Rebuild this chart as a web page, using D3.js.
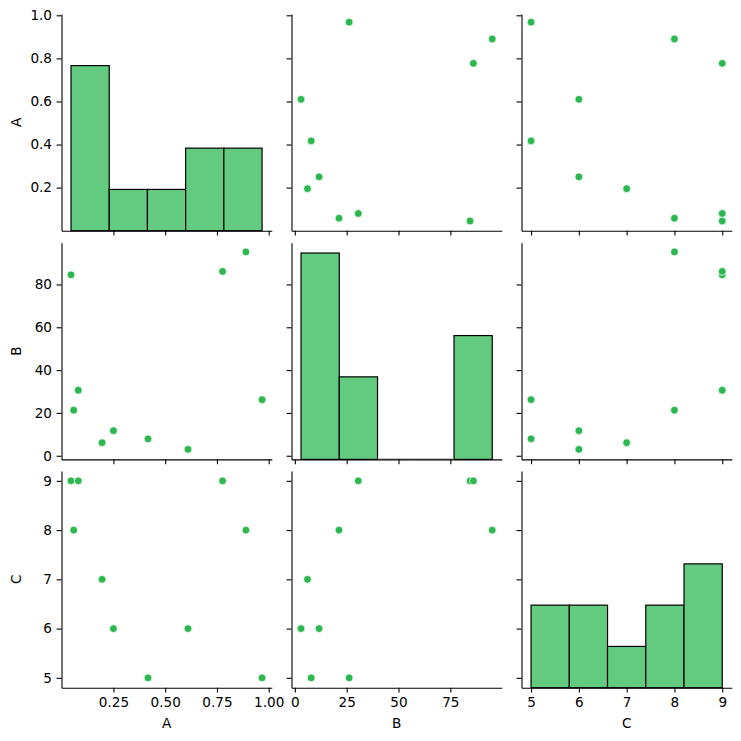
<!DOCTYPE html>
<html><head><meta charset="utf-8">
<script src="https://cdn.jsdelivr.net/npm/d3@7"></script>
<style>body{margin:0;background:#fff}svg{display:block}text{font-family:"DejaVu Sans",sans-serif}</style>
</head><body>
<script>
const variables = ["A", "B", "C"];
const valuesA = [0.045, 0.08, 0.058, 0.195, 0.25, 0.417, 0.61, 0.777, 0.89, 0.968];
const valuesB = [84.5, 30.6, 21.3, 6.1, 11.7, 7.9, 3.0, 86.1, 95.2, 26.2];
const valuesC = [9, 9, 8, 7, 6, 5, 6, 9, 8, 5];
const ticksA = [0.25, 0.5, 0.75, 1.0];
const ticksAy = [0.2, 0.4, 0.6, 0.8, 1.0];
const ticksB = [0, 25, 50, 75];
const ticksBy = [0, 20, 40, 60, 80];
const ticksC = [5, 6, 7, 8, 9];
const binCount = 5;

const data = { A: valuesA, B: valuesB, C: valuesC };
const xDomains = { A: [-0.001, 1.015], B: [-1.6, 99.8], C: [4.8, 9.2] };
const yDomains = { A: [0.0, 1.006], B: [-1.7, 99.5], C: [4.8, 9.2] };
const xTicks = { A: ticksA, B: ticksB, C: ticksC };
const yTicks = { A: ticksAy, B: ticksBy, C: ticksC };
const xFmt = { A: d3.format(".2f"), B: d3.format("d"), C: d3.format("d") };
const yFmt = { A: d3.format(".1f"), B: d3.format("d"), C: d3.format("d") };

const W = 741, H = 741;
const colX = [61.5, 291.5, 521.5], colW = 210.3;
const rowY = [14, 242.7, 471], rowH = 216.7;
const pointColor = "#2cb74f", histColor = "#63cb7f";
const fs = 13.6, tickLen = 4.9, tickPad = 4.6;

const svg = d3.select("body").append("svg").attr("width", W).attr("height", H);

const bins = {};
variables.forEach(v => {
  const ext = d3.extent(data[v]);
  const step = (ext[1] - ext[0]) / binCount;
  const th = d3.range(1, binCount).map(i => ext[0] + i * step);
  bins[v] = d3.bin().domain(ext).thresholds(th)(data[v]);
});
const maxCount = d3.max(variables, v => d3.max(bins[v], b => b.length));
const countScale = d3.scaleLinear().domain([0, maxCount * 1.05]);

variables.forEach((rv, ri) => {
  variables.forEach((cv, ci) => {
    const g = svg.append("g").attr("transform", `translate(${colX[ci]},${rowY[ri]})`);
    const x = d3.scaleLinear().domain(xDomains[cv]).range([0, colW]);
    const y = d3.scaleLinear().domain(yDomains[rv]).range([rowH, 0]);
    if (ri === ci) {
      const cy = countScale.copy().range([rowH, 0]);
      g.selectAll("rect").data(bins[cv].filter(d => d.length > 0)).join("rect")
        .attr("x", d => x(d.x0)).attr("width", d => x(d.x1) - x(d.x0))
        .attr("y", d => cy(d.length)).attr("height", d => rowH - cy(d.length))
        .attr("fill", histColor).attr("stroke", "#000").attr("stroke-width", 1.2);
      g.selectAll("line.empty").data(bins[cv].filter(d => d.length === 0)).join("line")
        .attr("class", "empty")
        .attr("x1", d => x(d.x0)).attr("x2", d => x(d.x1))
        .attr("y1", rowH - 0.5).attr("y2", rowH - 0.5)
        .attr("stroke", "#aaa").attr("stroke-width", 1.2);
    } else {
      g.selectAll("circle").data(data[cv].map((d, i) => [d, data[rv][i]])).join("circle")
        .attr("cx", d => x(d[0])).attr("cy", d => y(d[1])).attr("r", 3.9)
        .attr("fill", pointColor).attr("stroke", "#fff").attr("stroke-width", 0.75);
    }
    const xa = d3.axisBottom(x).tickValues(xTicks[cv]).tickSize(tickLen).tickSizeOuter(0).tickPadding(tickPad)
      .tickFormat(ri === 2 ? xFmt[cv] : () => "");
    const ya = d3.axisLeft(y).tickValues(yTicks[rv]).tickSize(tickLen).tickSizeOuter(0).tickPadding(tickPad)
      .tickFormat(ci === 0 ? yFmt[rv] : () => "");
    const gx = g.append("g").attr("transform", `translate(0,${rowH})`).call(xa);
    const gy = g.append("g").call(ya);
    [gx, gy].forEach(a => {
      a.selectAll("path.domain").attr("stroke", "#000").attr("stroke-width", 1.1);
      a.selectAll(".tick line").attr("stroke", "#000").attr("stroke-width", 1.1);
      a.selectAll(".tick text").attr("fill", "#000").style("font-size", fs + "px").style("font-family", '"DejaVu Sans",sans-serif');
    });
    if (ri === 2) {
      g.append("text").attr("x", colW / 2).attr("y", rowH + 40).attr("text-anchor", "middle")
        .style("font-size", fs + "px").attr("fill", "#000").text(cv);
    }
    if (ci === 0) {
      g.append("text").attr("transform", `translate(${-41},${rowH / 2}) rotate(-90)`).attr("text-anchor", "middle")
        .style("font-size", fs + "px").attr("fill", "#000").text(rv);
    }
  });
});
</script>
</body></html>
